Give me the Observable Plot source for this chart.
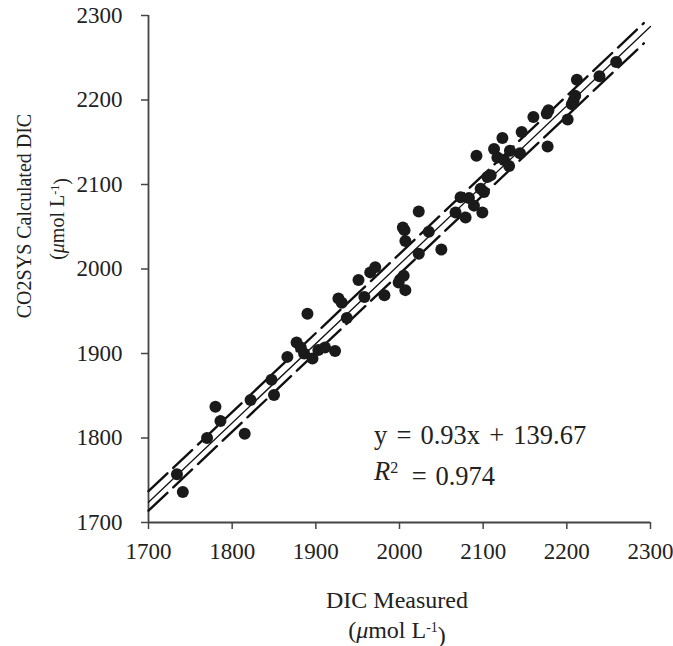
<!DOCTYPE html>
<html>
<head>
<meta charset="utf-8">
<script src="https://cdn.jsdelivr.net/npm/d3@7"></script>
<script src="https://cdn.jsdelivr.net/npm/@observablehq/plot@0.6"></script>
<style>
  html, body { margin: 0; padding: 0; background: #fff; }
  svg, svg text { font-family: "Liberation Serif", "Times New Roman", serif !important; }
</style>
</head>
<body>
<div id="chart"></div>
<script>
// DIC measured (x) and CO2SYS calculated DIC (y), µmol L-1
const measuredDIC = [1734,1741,1770,1780,1786,1815,1822,1847,1850,1866,1877,1882,1886,1896,1903,1911,1923,1890,1927,1931,1937,1951,1958,1965,1971,1982,1999,2007,2005,2004,2006,2007,2023,2035,2023,2050,2067,2079,2073,2083,2089,2099,2097,2101,2105,2109,2092,2113,2123,2117,2125,2131,2132,2144,2146,2160,2178,2176,2177,2201,2206,2208,2210,2212,2239,2259];
const calculatedDIC = [1757,1736,1800,1837,1820,1805,1845,1869,1851,1896,1913,1907,1900,1894,1904,1907,1903,1947,1965,1960,1942,1987,1967,1996,2002,1969,1984,1975,1992,2049,2046,2033,2068,2044,2018,2023,2067,2061,2085,2084,2075,2067,2095,2091,2109,2111,2134,2142,2155,2132,2129,2122,2140,2137,2162,2180,2188,2184,2145,2177,2195,2199,2205,2224,2228,2245];

// regression line and its confidence bounds (end points)
const fitX = [1700, 2300];
const fitY = [1724, 2287];
const upperX = [1700, 2292];
const upperY = [1737, 2291];
const lowerX = [1700, 2292];
const lowerY = [1714, 2267];

const xTicks = [1700,1800,1900,2000,2100,2200,2300];
const yTicks = [1700,1800,1900,2000,2100,2200,2300];

const points = measuredDIC.map((x, i) => ({x, y: calculatedDIC[i]}));
const fit = fitX.map((x, i) => ({x, y: fitY[i]}));
const upper = upperX.map((x, i) => ({x, y: upperY[i]}));
const lower = lowerX.map((x, i) => ({x, y: lowerY[i]}));

const FONT = '"Liberation Serif", "Times New Roman", serif';

const chart = Plot.plot({
  width: 673,
  height: 646,
  marginLeft: 148,
  marginRight: 23,
  marginTop: 15,
  marginBottom: 124,
  x: {domain: [1700, 2300]},
  y: {domain: [1700, 2300]},
  style: {fontFamily: FONT, fontSize: "23px", color: "#222", background: "#fff", overflow: "visible"},
  marks: [
    Plot.axisX({ticks: xTicks, tickFormat: d => String(d), tickSize: 7, tickPadding: 13, label: null, stroke: "#444", strokeWidth: 1.5, fill: "#222", fontSize: 23}),
    Plot.axisY({ticks: yTicks, tickFormat: d => String(d), tickSize: 7, tickPadding: 19, label: null, stroke: "#444", strokeWidth: 1.5, fill: "#222", fontSize: 23}),
    Plot.ruleX([1700], {stroke: "#444", strokeWidth: 1.8}),
    Plot.ruleY([1700], {stroke: "#444", strokeWidth: 1.8}),
    Plot.line(upper, {x: "x", y: "y", stroke: "#111", strokeWidth: 2.4, strokeDasharray: "26,8"}),
    Plot.line(lower, {x: "x", y: "y", stroke: "#111", strokeWidth: 2.4, strokeDasharray: "26,8"}),
    Plot.line(fit, {x: "x", y: "y", stroke: "#111", strokeWidth: 1.3}),
    Plot.dot(points, {x: "x", y: "y", r: 6, fill: "#1a1a1a", stroke: "none"})
  ]
});

document.getElementById("chart").appendChild(chart);

const svg = d3.select(chart);

function addText(attrs, size) {
  const t = svg.append("text")
    .attr("fill", "#222")
    .attr("font-family", FONT)
    .attr("text-anchor", attrs.anchor || "start")
    .style("font-size", size + "px");
  if (attrs.transform) t.attr("transform", attrs.transform);
  if (attrs.x != null) t.attr("x", attrs.x).attr("y", attrs.y);
  return t;
}
function unitLine(t, supSize) {
  t.append("tspan").text("(");
  t.append("tspan").style("font-style", "italic").text("μ");
  t.append("tspan").text("mol L");
  t.append("tspan").attr("dy", "-0.45em").style("font-size", supSize + "px").text("-1");
  t.append("tspan").attr("dy", "0.45em").text(")");
}

// Y axis title
addText({transform: "translate(31,216) rotate(-90)", anchor: "middle"}, 20).text("CO2SYS Calculated DIC");
unitLine(addText({transform: "translate(64,219) rotate(-90)", anchor: "middle"}, 20), 12);

// X axis title
addText({x: 397, y: 608, anchor: "middle"}, 24).text("DIC Measured");
unitLine(addText({x: 397, y: 638, anchor: "middle"}, 24), 14);

// Equation annotation
addText({x: 374, y: 444}, 26.5).style("word-spacing", "2.5px").text("y = 0.93x + 139.67");
const r2 = addText({x: 374, y: 480}, 26.5);
r2.append("tspan").style("font-style", "italic").text("R");
r2.append("tspan").attr("dy", "-0.45em").style("font-size", "16px").text("2");
r2.append("tspan").attr("dy", "0.45em").attr("dx", 5).style("word-spacing", "2px").text(" = 0.974");
</script>
</body>
</html>
